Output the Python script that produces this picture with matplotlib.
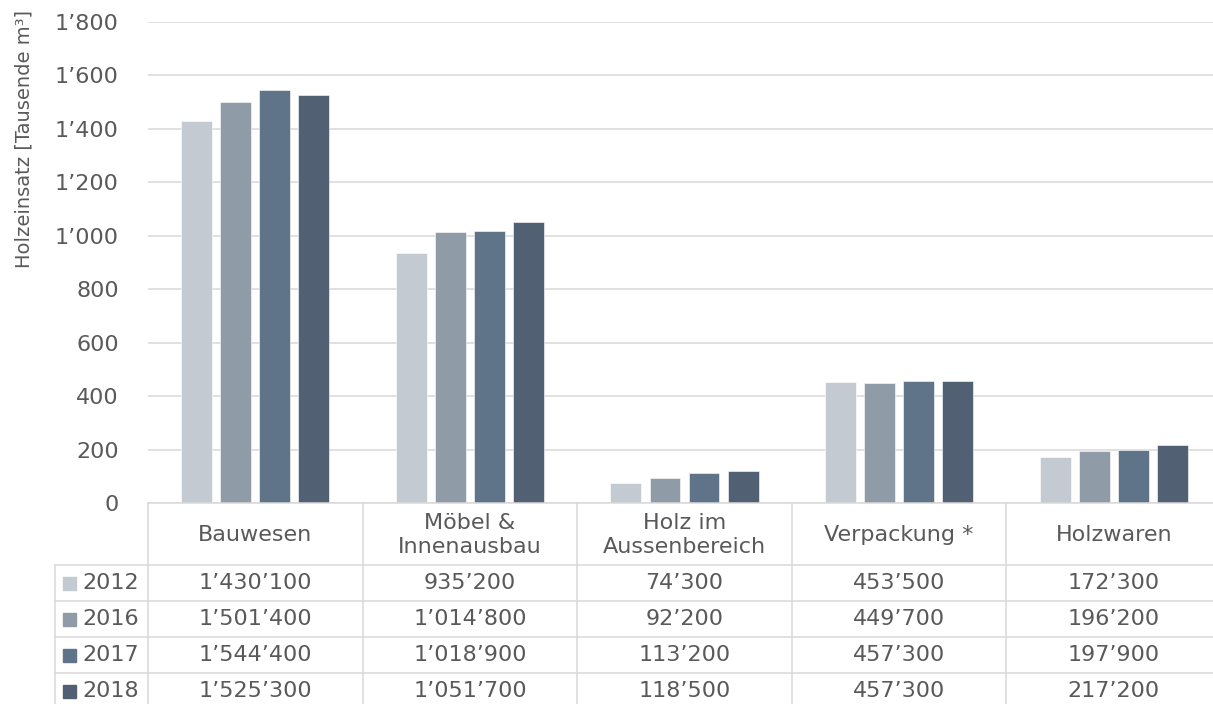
import numpy as np
import matplotlib
matplotlib.use('Agg')
import matplotlib.pyplot as plt

plt.rcParams['font.family'] = ['DejaVu Sans']

# Holzeinsatz nach Verwendungsbereich (m3)
categories = ['Bauwesen', 'Möbel &\nInnenausbau', 'Holz im\nAussenbereich', 'Verpackung *', 'Holzwaren']
years = ['2012', '2016', '2017', '2018']
v2012 = [1430100, 935200, 74300, 453500, 172300]
v2016 = [1501400, 1014800, 92200, 449700, 196200]
v2017 = [1544400, 1018900, 113200, 457300, 197900]
v2018 = [1525300, 1051700, 118500, 457300, 217200]
series = [v2012, v2016, v2017, v2018]
colors = ['#c3cad2', '#8f9ba7', '#607489', '#526073']
yticks = [0, 200, 400, 600, 800, 1000, 1200, 1400, 1600, 1800]

TXT = '#595959'
GRID = '#d9d9d9'
W, H = 1213, 704


def fmt(v):
    # Schweizer Tausendertrennzeichen
    return f'{v:,}'.replace(',', '\u2019')


fig = plt.figure(figsize=(W / 100, H / 100), dpi=100)

# Diagrammfläche (Pixelkoordinaten)
left, right, top, bottom = 148, 1221, 22, 503
ax = fig.add_axes([left / W, 1 - bottom / H, (right - left) / W, (bottom - top) / H])
x = np.arange(len(categories))
step, width = 0.182, 0.144
for i, (vals, c) in enumerate(zip(series, colors)):
    ax.bar(x + (i - 1.5) * step, np.array(vals) / 1000, width=width, color=c,
           edgecolor='#ffffff', linewidth=0.4, zorder=3, label=years[i])
ax.set_xlim(-0.5, len(categories) - 0.5)
ax.set_ylim(0, 1800)
ax.set_yticks(yticks)
ax.set_yticklabels([fmt(t) for t in yticks], fontsize=16, color=TXT)
ax.tick_params(axis='y', length=0, pad=21)
ax.set_xticks([])
ax.grid(axis='y', color=GRID, linewidth=1.1, zorder=0)
for s in ax.spines.values():
    s.set_visible(False)

fig.text(24 / W, 1 - 139 / H, 'Holzeinsatz [Tausende m³]', rotation=90,
         ha='center', va='center', fontsize=14, color=TXT)

# Datentabelle unter dem Diagramm
tab = fig.add_axes([0, 0, 1, 1], zorder=5)
tab.set_xlim(0, W)
tab.set_ylim(H, 0)
tab.axis('off')
tab.patch.set_alpha(0)

col_w = (right - left) / len(categories)
col_edges = [left + k * col_w for k in range(len(categories) + 1)]
head_top, head_bot, row_h = 503, 565, 36
row_edges = [head_bot + k * row_h for k in range(len(years) + 1)]
lw = 1.1

# horizontale Linien
tab.plot([left, right], [head_top, head_top], color=GRID, lw=lw)
for yy in row_edges:
    tab.plot([55, right], [yy, yy], color=GRID, lw=lw)
# vertikale Linien
for xx in col_edges[:-1]:
    tab.plot([xx, xx], [head_top, H + 10], color=GRID, lw=lw)
tab.plot([55, 55], [head_bot, H + 10], color=GRID, lw=lw)

for k, cat in enumerate(categories):
    cx = (col_edges[k] + col_edges[k + 1]) / 2
    tab.text(cx, (head_top + head_bot) / 2 + 1, cat, ha='center', va='center',
             fontsize=16, color=TXT, linespacing=1.25)
    for r, vals in enumerate(series):
        cy = row_edges[r] + row_h / 2
        tab.text(cx, cy, fmt(vals[k]), ha='center', va='center', fontsize=16, color=TXT)

for r, (yr, c) in enumerate(zip(years, colors)):
    cy = row_edges[r] + row_h / 2
    tab.add_patch(plt.Rectangle((63, cy - 6.5), 13, 13, color=c))
    tab.text(82, cy, yr, ha='left', va='center', fontsize=16, color=TXT)

fig.savefig('out.png', dpi=100)
